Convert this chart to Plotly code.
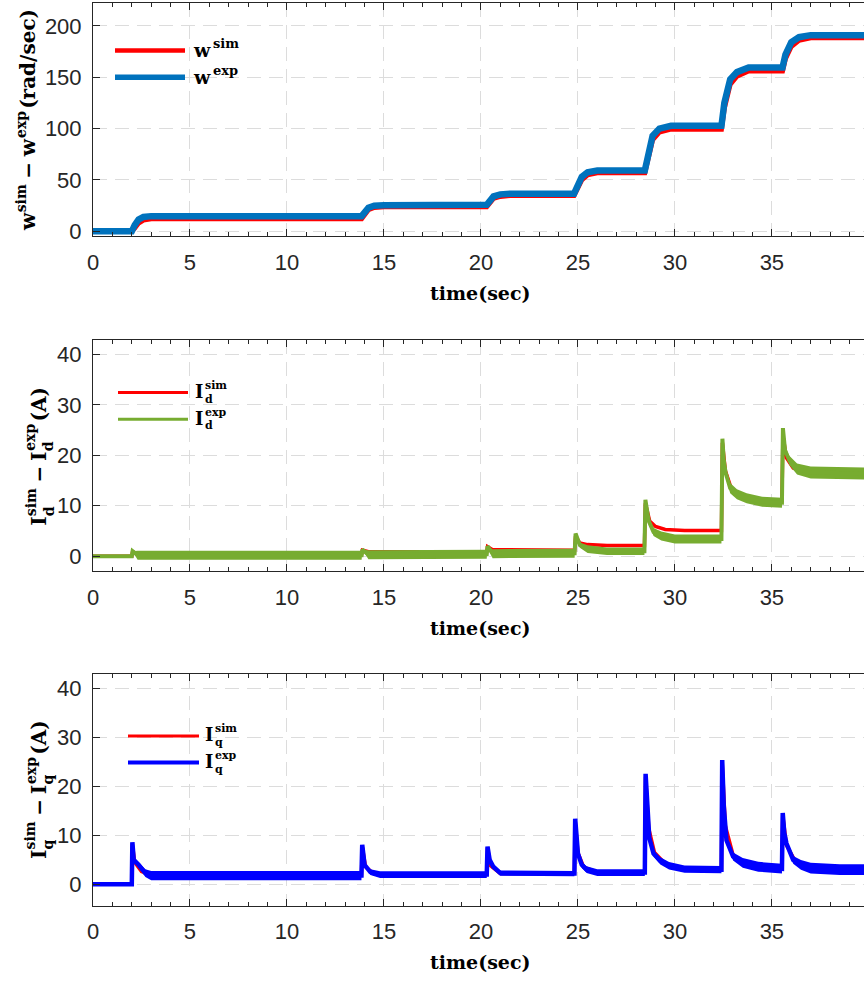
import plotly.graph_objects as go

# ---------------- data ----------------
# top: speed
t_w = [0, 2.00, 2.15, 2.35, 2.60, 3.00, 13.85, 14.00, 14.20, 14.50, 15.00,
       20.30, 20.45, 20.65, 21.00, 21.50, 24.80, 24.95, 25.20, 25.50, 26.00,
       28.45, 28.60, 28.85, 29.20, 29.80, 32.40, 32.55, 32.85, 33.20, 33.80,
       35.55, 35.70, 36.00, 36.40, 37.00, 40.0]
w_exp = [0, 0, 6, 11.5, 14, 14.8, 14.8, 19, 23, 25, 25.5,
         25.8, 30, 34, 36, 36.7, 36.7, 44, 53, 57.5, 59.2,
         59.2, 75, 93, 100, 102.7, 102.7, 125, 148, 155, 159.4,
         159.4, 172, 184, 189, 191, 191]
w_sim = [0, 0, 3, 8, 11, 12.3, 12.3, 16, 21, 23.3, 24,
         24, 28, 32, 34, 34.8, 34.8, 41, 50, 55, 57,
         57, 71, 89, 96.5, 99.5, 99.5, 120, 143, 151, 156,
         156, 168, 180, 186, 188.5, 188.5]

# middle: d-axis current
t_id_exp = [0, 2.00, 2.04, 2.30, 13.85, 13.89, 14.20, 20.30, 20.34, 20.60,
            24.83, 24.88, 25.10, 25.50, 26.50,
            28.43, 28.48, 28.65, 28.90, 29.30, 30.00,
            32.40, 32.45, 32.52, 32.62, 32.85, 33.20, 33.70, 34.50,
            35.52, 35.57, 35.68, 35.90, 36.30, 37.00, 40.00]
id_exp = [0, 0, 1.0, 0.2, 0.2, 1.3, 0.3, 0.4, 2.0, 0.5,
          0.6, 4.5, 2.2, 1.4, 1.0,
          1.0, 11.2, 7.0, 4.8, 4.0, 3.4,
          3.4, 23.3, 19.0, 16.5, 13.5, 12.3, 11.5, 10.8,
          10.6, 25.4, 21.0, 19.0, 17.3, 16.6, 16.4]
id_exp_ripple = [0, 0, 0, 0.9, 0.9, 0, 0.9, 0.9, 0, 0.9,
                 0.9, 0, 0.5, 0.75, 0.75,
                 0.75, 0, 0.5, 0.8, 0.9, 0.9,
                 0.9, 0, 0.5, 0.8, 1.0, 1.0, 1.0, 1.0,
                 1.0, 0, 0.6, 0.9, 1.1, 1.2, 1.2]
t_id_sim = [0, 2.00, 2.04, 2.30, 13.85, 13.89, 14.20, 20.30, 20.34, 20.60,
            24.83, 24.88, 25.10, 25.50, 26.50,
            28.43, 28.48, 28.70, 29.00, 29.50, 30.50,
            32.40, 32.45, 32.60, 32.90, 33.40, 34.50,
            35.52, 35.57, 35.75, 36.10, 36.60, 40.00]
id_sim = [0, 0, 0.9, 0.4, 0.4, 1.2, 0.9, 0.9, 1.9, 1.3,
          1.2, 4.0, 2.6, 2.3, 2.1,
          2.1, 10.5, 7.0, 5.9, 5.3, 5.1,
          5.1, 22.5, 17.0, 13.5, 11.8, 11.0,
          11.0, 24.0, 19.5, 17.5, 16.8, 16.6]

# bottom: q-axis current
t_iq_exp = [0, 2.00, 2.03, 2.10, 2.35, 2.70, 3.00,
            13.84, 13.88, 14.00, 14.30, 14.80,
            20.30, 20.34, 20.45, 20.64, 21.00,
            24.82, 24.86, 24.92, 25.00, 25.20, 25.45, 26.00,
            28.45, 28.49, 28.58, 28.68, 28.90, 29.25, 29.70, 30.50,
            32.40, 32.44, 32.52, 32.66, 33.00, 33.50, 34.30,
            35.52, 35.56, 35.64, 35.75, 36.10, 36.50, 37.00, 38.50, 40.00]
iq_exp = [0, 0, 8.6, 5.0, 4.0, 2.3, 1.8,
          1.8, 8.1, 4.0, 2.5, 2.0,
          2.0, 7.7, 5.0, 3.6, 2.3,
          2.2, 13.4, 9.0, 6.3, 4.0, 3.0, 2.4,
          2.4, 22.6, 14.0, 9.5, 6.3, 4.8, 3.8, 3.1,
          3.0, 25.4, 16.0, 9.0, 5.7, 4.4, 3.6,
          3.2, 14.6, 10.5, 8.4, 5.0, 4.0, 3.3, 3.0, 3.0]
iq_exp_ripple = [0, 0, 0, 0.3, 0.5, 0.8, 0.95,
                 0.95, 0, 0.3, 0.6, 0.7,
                 0.7, 0, 0.3, 0.5, 0.55,
                 0.55, 0, 0.2, 0.4, 0.6, 0.7, 0.7,
                 0.7, 0, 0.2, 0.4, 0.6, 0.75, 0.75, 0.75,
                 0.75, 0, 0.2, 0.5, 0.8, 1.0, 1.0,
                 1.0, 0, 0.2, 0.5, 0.8, 1.0, 1.1, 1.1, 1.1]
t_iq_sim = [0, 2.00, 2.03, 2.15, 2.50, 3.00, 13.84, 13.88, 14.05, 14.50,
            20.30, 20.34, 20.50, 21.00, 24.82, 24.86, 25.00, 25.30, 26.00,
            28.45, 28.49, 28.65, 28.95, 29.50, 30.50,
            32.40, 32.44, 32.60, 33.00, 33.60, 34.50,
            35.52, 35.56, 35.75, 36.20, 37.00, 40.00]
iq_sim = [0, 0, 8.2, 4.5, 2.6, 1.9, 1.9, 7.8, 3.6, 2.1,
          2.1, 7.4, 3.8, 2.2, 2.3, 13.0, 6.5, 3.5, 2.5,
          2.6, 22.0, 11.5, 6.5, 4.2, 3.2,
          3.1, 24.8, 12.0, 6.0, 4.3, 3.5,
          3.3, 14.2, 8.0, 4.8, 3.4, 3.1]

x_ticks = [0, 5, 10, 15, 20, 25, 30, 35]
w_ticks = [0, 50, 100, 150, 200]
i_ticks = [0, 10, 20, 30, 40]

# ---------------- layout helpers ----------------
W, H = 864, 985
L = 93
PW = W - L


def px(x):
    return (x - L) / PW


def py(y):
    return 1 - y / H


RED = '#FF0000'
BLUE1 = '#0072BD'
GREEN = '#77AC30'
BLUE2 = '#0000FF'
AXC = '#262626'
SERIF = 'DejaVu Serif'

CW = {'w': .924, 's': .595, 'i': .375, 'm': 1.042, 'e': .678, 'x': .663,
      'p': .716, '−': .838, '(': .473, ')': .473, 'r': .532, 'a': .675,
      'd': .716, '/': .365, 'c': .593, 'I': .472, 'A': .774, 'q': .716,
      ' ': .348, 't': .435}


def tw(s, f):
    return sum(CW.get(c, .65) for c in s) * f


fig = go.Figure()

panels = [
    dict(row='', dom=(3, 238.3), rng=[-4.9, 222.3], ticks=w_ticks),
    dict(row='2', dom=(342.7, 576), rng=[-3.0, 42.9], ticks=i_ticks),
    dict(row='3', dom=(680, 913.3), rng=[-4.4, 42.9], ticks=i_ticks),
]


def band(tx, c, r, xa, ya, color):
    lo = [a - b for a, b in zip(c, r)]
    hi = [a + b for a, b in zip(c, r)]
    fig.add_trace(go.Scatter(x=tx, y=lo, mode='lines', line=dict(width=0, color=color),
                             xaxis=xa, yaxis=ya, showlegend=False, hoverinfo='skip'))
    fig.add_trace(go.Scatter(x=tx, y=hi, mode='lines', line=dict(width=0, color=color),
                             fill='tonexty', fillcolor=color,
                             xaxis=xa, yaxis=ya, showlegend=False, hoverinfo='skip'))


# top
fig.add_trace(go.Scatter(x=t_w, y=w_sim, mode='lines', name='w sim',
                         line=dict(color=RED, width=5), xaxis='x', yaxis='y', showlegend=False))
fig.add_trace(go.Scatter(x=t_w, y=w_exp, mode='lines', name='w exp',
                         line=dict(color=BLUE1, width=6.5), xaxis='x', yaxis='y', showlegend=False))
# middle
fig.add_trace(go.Scatter(x=t_id_sim, y=id_sim, mode='lines', name='Id sim',
                         line=dict(color=RED, width=3.5), xaxis='x2', yaxis='y2', showlegend=False))
band(t_id_exp, id_exp, id_exp_ripple, 'x2', 'y2', GREEN)
fig.add_trace(go.Scatter(x=t_id_exp, y=id_exp, mode='lines', name='Id exp',
                         line=dict(color=GREEN, width=4), xaxis='x2', yaxis='y2', showlegend=False))
# bottom
fig.add_trace(go.Scatter(x=t_iq_sim, y=iq_sim, mode='lines', name='Iq sim',
                         line=dict(color=RED, width=3.5), xaxis='x3', yaxis='y3', showlegend=False))
band(t_iq_exp, iq_exp, iq_exp_ripple, 'x3', 'y3', BLUE2)
fig.add_trace(go.Scatter(x=t_iq_exp, y=iq_exp, mode='lines', name='Iq exp',
                         line=dict(color=BLUE2, width=4.5), xaxis='x3', yaxis='y3', showlegend=False))

layout = dict(width=W, height=H, margin=dict(l=L, r=0, t=0, b=0),
              paper_bgcolor='white', plot_bgcolor='white', showlegend=False)
tickfont = dict(family='Liberation Sans', size=22, color=AXC)
for p in panels:
    r = p['row']
    layout['xaxis' + r] = dict(
        domain=[0, 1], range=[0, 39.75], anchor='y' + r,
        tickvals=x_ticks, ticks='inside', ticklen=7, tickcolor=AXC,
        showline=True, linecolor=AXC, linewidth=1, mirror='ticks',
        showgrid=True, gridcolor='#dcdcdc', griddash='14px,8px', gridwidth=1,
        zeroline=False, tickfont=tickfont, ticklabelstandoff=6,
        minor=dict(dtick=1, tick0=0, ticks='inside', ticklen=4, tickcolor=AXC, showgrid=False),
    )
    layout['yaxis' + r] = dict(
        domain=[py(p['dom'][1]), py(p['dom'][0])], range=p['rng'], anchor='x' + r,
        tickvals=p['ticks'], ticks='inside', ticklen=7, tickcolor=AXC,
        showline=True, linecolor=AXC, linewidth=1, mirror=False,
        showgrid=True, gridcolor='#dcdcdc', griddash='14px,8px', gridwidth=1,
        zeroline=False, tickfont=tickfont, ticklabelstandoff=6,
    )
fig.update_layout(**layout)

ann = []
shapes = []


def txt(x, y, s, f, xanchor='left', yanchor='middle', angle=0):
    ann.append(dict(xref='paper', yref='paper', x=x, y=y, text=s, showarrow=False,
                    xanchor=xanchor, yanchor=yanchor, textangle=angle, borderpad=0,
                    font=dict(family=SERIF, size=f, color='black', weight='bold')))


def hlabel(x_left, base, main, sup, sub, fm, fs, up=0.47, dn=0.29):
    txt(px(x_left), py(base - 0.346 * fm), main, fm)
    xs = x_left + tw(main, fm) + 2
    if sup:
        b = base - up * fm
        txt(px(xs), py(b - 0.346 * fs), sup, fs)
    if sub:
        b = base + dn * fm
        txt(px(xs), py(b - 0.346 * fs), sub, fs)


def vtitle(pieces, yc, B, fm=20, fs=14, up2=0.54, dn2=0.36):
    lens = []
    for kind, a, b in pieces:
        if kind == 'main':
            lens.append(tw(a, fm) + 1)
        elif kind == 'gap':
            lens.append(a)
        else:
            lens.append(max(tw(a, fs), tw(b, fs) if b else 0) + 1)
    y = yc + sum(lens) / 2
    for (kind, a, b), ln in zip(pieces, lens):
        if kind == 'main':
            txt(px(B - 0.346 * fm), py(y), a, fm, 'center', 'bottom', -90)
        elif kind == 'ss':
            up = up2 if b else 0.45
            txt(px(B - up * fm - 0.346 * fs), py(y), a, fs, 'center', 'bottom', -90)
            if b:
                txt(px(B + dn2 * fm - 0.346 * fs), py(y), b, fs, 'center', 'bottom', -90)
        y -= ln


def legline(x0, x1, y, color, width):
    shapes.append(dict(type='line', xref='paper', yref='paper', x0=px(x0), x1=px(x1),
                       y0=py(y), y1=py(y), line=dict(color=color, width=width)))


# y titles
vtitle([('main', 'w', None), ('ss', 'sim', None), ('gap', 4, None), ('main', '−', None),
        ('gap', 4, None), ('main', 'w', None), ('ss', 'exp', None), ('main', '(rad/sec)', None)],
       121, 35)
vtitle([('main', 'I', None), ('ss', 'sim', 'd'), ('gap', 4, None), ('main', '−', None),
        ('gap', 4, None), ('main', 'I', None), ('ss', 'exp', 'd'), ('main', '(A)', None)],
       461, 46)
vtitle([('main', 'I', None), ('ss', 'sim', 'q'), ('gap', 4, None), ('main', '−', None),
        ('gap', 4, None), ('main', 'I', None), ('ss', 'exp', 'q'), ('main', '(A)', None)],
       797, 46)

# x titles
for axis_y in (238.3, 576, 913.3):
    ann.append(dict(xref='paper', yref='paper', x=px(L + 20 * PW / 39.75), y=py(axis_y + 57),
                    text='time(sec)', showarrow=False, xanchor='center', yanchor='middle',
                    font=dict(family=SERIF, size=19, color='black', weight='bold')))

# legends
legline(115, 185, 51, RED, 4.5)
legline(115, 185, 78, BLUE1, 5.5)
hlabel(192, 57, 'w', 'sim', None, 19, 13, up=0.45)
hlabel(192, 84, 'w', 'exp', None, 19, 13, up=0.45)

legline(118, 188, 395.7, RED, 3)
legline(118, 188, 422.7, GREEN, 3)
hlabel(194, 401, 'I', 'sim', 'd', 18, 11)
hlabel(194, 428, 'I', 'exp', 'd', 18, 11)

legline(128, 199, 742, RED, 3)
legline(128, 199, 768.7, BLUE2, 4)
hlabel(204, 747, 'I', 'sim', 'q', 18, 11)
hlabel(204, 774, 'I', 'exp', 'q', 18, 11)

fig.update_layout(annotations=ann, shapes=shapes)
fig.write_html('out.html')
